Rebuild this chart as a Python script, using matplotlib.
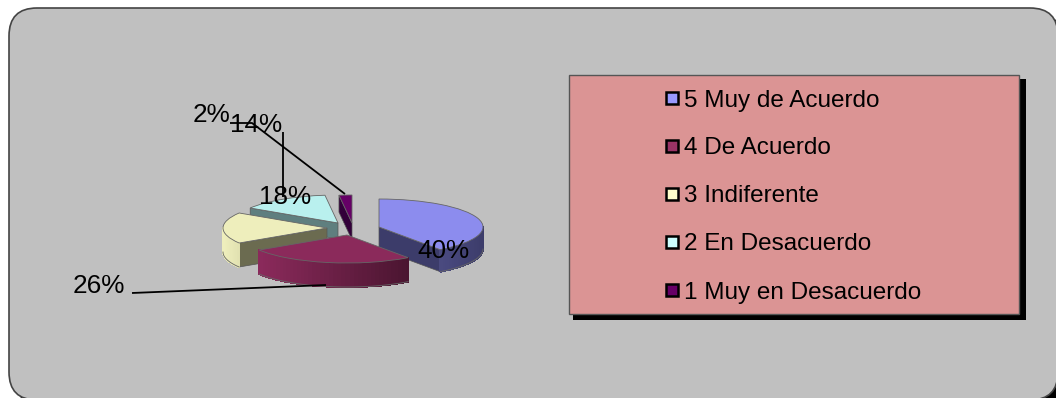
import numpy as np
import matplotlib
matplotlib.use("Agg")
import matplotlib.pyplot as plt
from matplotlib.colors import to_rgb
from matplotlib.patches import FancyBboxPatch, Polygon, Rectangle, Wedge
from matplotlib.transforms import Affine2D

plt.rcParams["font.family"] = ["Liberation Sans", "DejaVu Sans"]

categories = ["5 Muy de Acuerdo", "4 De Acuerdo", "3 Indiferente", "2 En Desacuerdo", "1 Muy en Desacuerdo"]
percents = [40, 26, 18, 14, 2]
key_colors = ["#9999FF", "#993366", "#FFFFCC", "#CCFFFF", "#660066"]
top_colors = ["#8C8CEE", "#8B2A5B", "#EEEEBC", "#B9F0EE", "#660066"]
cut_colors = ["#3C3C6A", "#4A1530", "#6B6B50", "#5F7F7F", "#33003A"]
wall_left = ["#4A4A80", "#8B2A5B", "#EEEEBC", "#7F9F9F", "#33003A"]
wall_right = ["#3C3C6A", "#4A1530", "#E0E0B0", "#7F9F9F", "#33003A"]

# exploded apex of each slice, and how tall its side is
centers = [(379, 227), (347, 235), (327, 228), (338, 223), (352, 223)]
depths = [22, 24, 24, 16, 17]
RX, RY = 104, 28

# each label: text position, then the leader polyline (empty when there is none)
label_xy = [(417, 258), (73, 293), (259, 204), (230, 132), (193, 122)]
leaders = [
    [],
    [(132, 293), (326, 285)],
    [],
    [(283, 132), (283, 197)],
    [(230, 123), (252, 123), (345, 194)],
]

fig = plt.figure(figsize=(10.56, 3.98), dpi=100, facecolor="white")
ax = fig.add_axes([0, 0, 1, 1])
ax.set_xlim(0, 1056)
ax.set_ylim(398, 0)
ax.axis("off")

# rounded background panel with its shadow
def panel(x0, y0, x1, y1, **kw):
    ax.add_patch(FancyBboxPatch((x0 + 28, y0 + 28), x1 - x0 - 56, y1 - y0 - 56,
                                boxstyle="round,pad=28,rounding_size=28", **kw))

panel(15, 14, 1064, 406, facecolor="black", edgecolor="none")
panel(9, 8, 1058, 400, facecolor="#C0C0C0", edgecolor="#444444", linewidth=1.2)


def rim(cx, cy, angle):
    # angle in degrees, clockwise from twelve o'clock
    t = np.radians(angle)
    return cx + RX * np.sin(t), cy - RY * np.cos(t)


def outer_wall(cx, cy, a1, a2, depth, left, right, steps=40):
    # curved side of a slice, split into strips to shade it across its width
    angles = np.linspace(a1, a2, steps + 1)
    xs = [rim(cx, cy, a)[0] for a in angles]
    x_min, x_max = min(xs), max(xs)
    c_left, c_right = np.array(to_rgb(left)), np.array(to_rgb(right))
    for i in range(steps):
        x0, y0 = rim(cx, cy, angles[i])
        x1, y1 = rim(cx, cy, angles[i + 1])
        f = ((x0 + x1) / 2 - x_min) / max(x_max - x_min, 1)
        col = c_left + (c_right - c_left) * f
        ax.add_patch(Polygon([(x0, y0), (x1, y1), (x1, y1 + depth), (x0, y0 + depth)],
                             closed=True, facecolor=col, edgecolor=col, linewidth=0.8,
                             antialiased=False))
    lower = [rim(cx, cy, a) for a in angles]
    ax.plot([p[0] for p in lower], [p[1] + depth for p in lower], color="#666666", lw=0.6)


def cut_face(cx, cy, angle, depth, color):
    x, y = rim(cx, cy, angle)
    ax.add_patch(Polygon([(cx, cy), (x, y), (x, y + depth), (cx, cy + depth)], closed=True,
                         facecolor=color, edgecolor="#555555", linewidth=0.5))


def top_face(cx, cy, a1, a2, color):
    tr = Affine2D().scale(RX, RY).translate(cx, cy) + ax.transData
    ax.add_patch(Wedge((0, 0), 1, a1 - 90, a2 - 90, transform=tr, facecolor=color,
                       edgecolor="#666666", linewidth=0.6))


ends = np.cumsum(percents) * 3.6
starts = ends - np.array(percents) * 3.6
spans = list(zip(starts, ends))

# back slices first, the front one last
for i in [4, 3, 2, 0, 1]:
    cx, cy = centers[i]
    a1, a2 = spans[i]
    d = depths[i]
    if i == 0:
        cut_face(cx, cy, a2, d, cut_colors[i])
        outer_wall(cx, cy, 90, a2, d, wall_left[i], wall_right[i])
    elif i == 1:
        outer_wall(cx, cy, a1, a2, d, wall_left[i], wall_right[i])
    elif i == 2:
        cut_face(cx, cy, a1, d, cut_colors[i])
        outer_wall(cx, cy, a1, 270, d, wall_left[i], wall_right[i])
    else:
        cut_face(cx, cy, a1, d, cut_colors[i])
    top_face(cx, cy, a1, a2, top_colors[i])

# leader lines and percentage labels
for pct, (lx, ly), line in zip(percents, label_xy, leaders):
    if line:
        ax.plot([p[0] for p in line], [p[1] for p in line], color="black", lw=1.3,
                solid_capstyle="butt")
    ax.text(lx, ly, f"{pct}%", fontsize=18.8, color="black", ha="left", va="baseline")

# legend box
ax.add_patch(Rectangle((573, 79), 453, 241, facecolor="black", edgecolor="none"))
ax.add_patch(Rectangle((568.5, 75), 450, 239, facecolor="#DB9494", edgecolor="#555555", linewidth=1))
row_y = [98, 146, 194, 242, 290]
for name, col, y in zip(categories, key_colors, row_y):
    ax.add_patch(Rectangle((665.5, y - 6), 12, 12, facecolor=col, edgecolor="black", linewidth=1.8))
    ax.text(684, y, name, fontsize=17.5, color="black", ha="left", va="center_baseline")

fig.savefig("out.png", dpi=100)
